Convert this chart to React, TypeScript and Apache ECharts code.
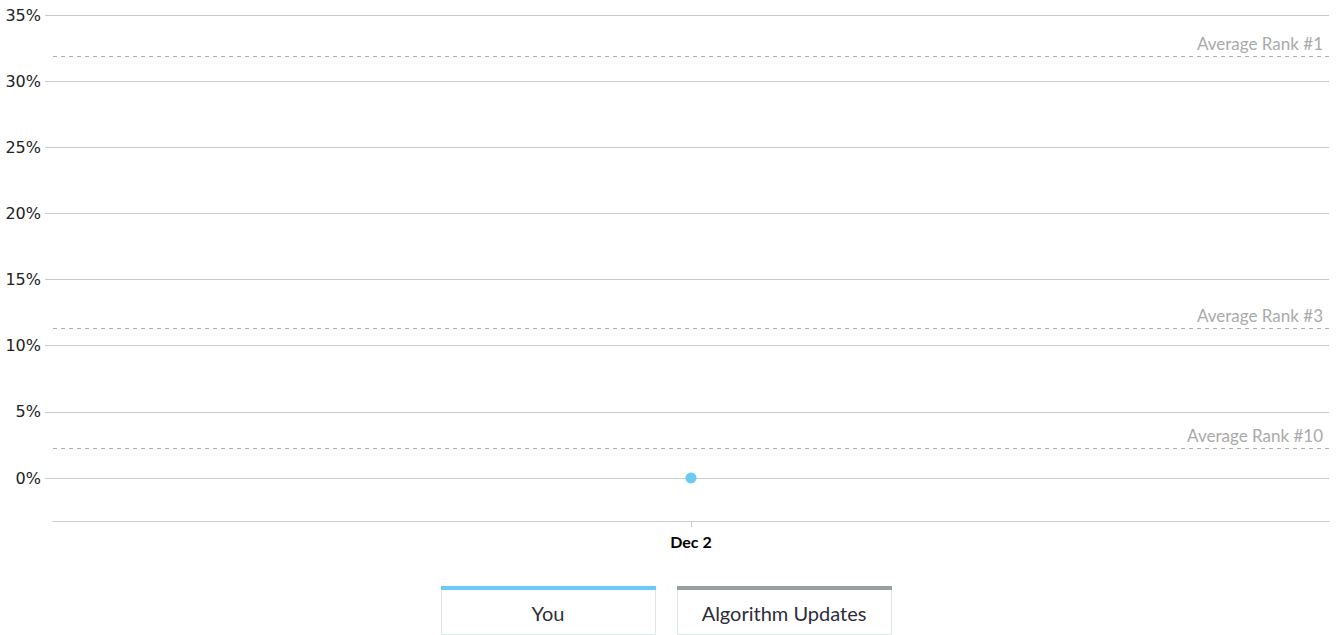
import React, { useEffect, useRef } from "react";
import * as echarts from "echarts";

const categories = ["Dec 2"];
const youValues = [0];
const algorithmUpdates: number[] = [];
const yTicks = [0, 5, 10, 15, 20, 25, 30, 35];
const averageRanks = [
  { name: "Average Rank #1", value: 31.9 },
  { name: "Average Rank #3", value: 11.35 },
  { name: "Average Rank #10", value: 2.27 },
];
const legendItems = [
  { name: "You", color: "#6ccbf2" },
  { name: "Algorithm Updates", color: "#989fa0" },
];

export default function App() {
  const ref = useRef<HTMLDivElement>(null);
  useEffect(() => {
    if (!ref.current) return;
    const chart = echarts.init(ref.current, null, { renderer: "svg" });
    const font = "Lato, sans-serif";
    const legendGraphics: any[] = [];
    const boxW = 214;
    const gap = 22;
    const startX = 441;
    legendItems.forEach((item, i) => {
      const x = startX + i * (boxW + gap);
      legendGraphics.push({
        type: "group",
        left: x,
        top: 586,
        children: [
          {
            type: "rect",
            shape: { x: 0.5, y: 0.5, width: boxW, height: 48 },
            style: { fill: "#fff", stroke: "#dfe6e6", lineWidth: 1 },
          },
          {
            type: "rect",
            shape: { x: 0, y: 0, width: boxW + 1, height: 4 },
            style: { fill: item.color },
          },
          {
            type: "text",
            x: boxW / 2,
            y: 27,
            style: {
              text: item.name,
              fill: "#2d2d3a",
              font: `20px ${font}`,
              align: "center",
              verticalAlign: "middle",
            },
          },
        ],
      });
    });

    chart.setOption({
      animation: false,
      grid: { left: 53, right: 10, top: 15, bottom: 114 },
      xAxis: {
        type: "category",
        data: categories,
        boundaryGap: true,
        axisLine: { show: true, onZero: false, lineStyle: { color: "#c3cdcf", width: 1 } },
        axisTick: { show: true, alignWithLabel: true, length: 6, lineStyle: { color: "#c3cdcf" } },
        axisLabel: { color: "#000", fontFamily: font, fontSize: 16, fontWeight: "bold", margin: 12 },
        splitLine: { show: false },
      },
      yAxis: {
        type: "value",
        min: -3.25,
        max: 35,
        axisLine: { show: false },
        axisTick: { show: true, length: 8, customValues: yTicks, lineStyle: { color: "#c3cdcf" } },
        axisLabel: {
          customValues: yTicks,
          formatter: "{value}%",
          color: "#222",
          fontFamily: "DejaVu Sans, sans-serif",
          fontSize: 16,
          margin: 12,
        },
        splitLine: { show: true, lineStyle: { color: "#c3cdcf", width: 1 } },
      },
      series: [
        {
          name: "You",
          type: "line",
          data: youValues,
          symbol: "circle",
          symbolSize: 11,
          itemStyle: { color: legendItems[0].color },
          lineStyle: { color: legendItems[0].color },
          markLine: {
            silent: true,
            symbol: "none",
            lineStyle: { color: "#b0b0b0", type: [4, 4], width: 1 },
            label: {
              show: true,
              position: "insideEndTop",
              formatter: "{b}",
              color: "#aaaaaa",
              fontFamily: font,
              fontSize: 17,
              distance: [6, 4],
            },
            data: averageRanks.map((r) => ({ name: r.name, yAxis: r.value })),
          },
        },
        {
          name: "Algorithm Updates",
          type: "line",
          data: algorithmUpdates,
          itemStyle: { color: legendItems[1].color },
        },
      ],
      graphic: legendGraphics,
    });
    return () => chart.dispose();
  }, []);
  return <div ref={ref} style={{ width: 1339, height: 635, position: "absolute", left: 0, top: 0 }} />;
}
